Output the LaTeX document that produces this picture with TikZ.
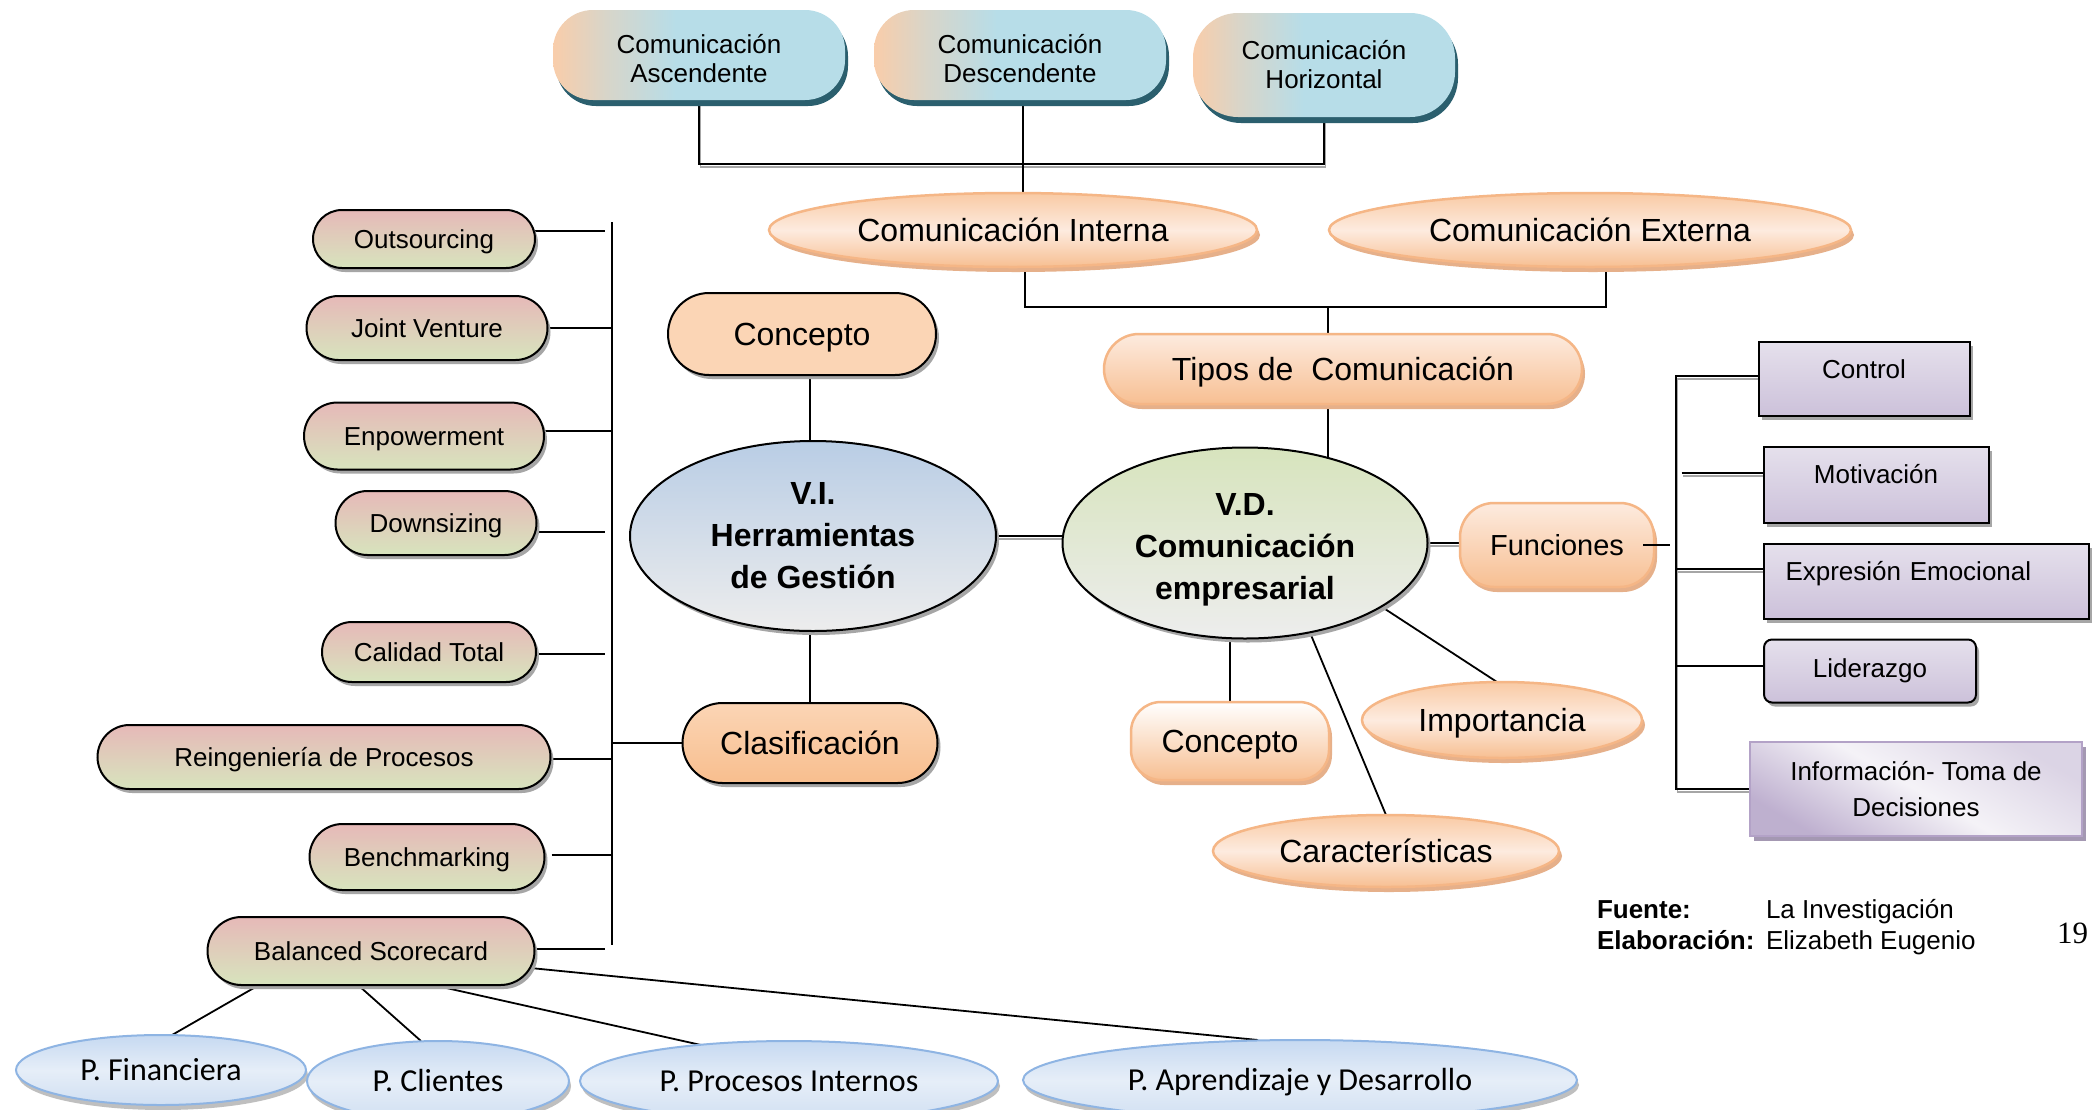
\documentclass[tikz,border=0pt]{standalone}
\usepackage{fontspec}
\setmainfont{Liberation Sans}
\newfontfamily\calib{Carlito}
\newfontfamily\timesf{Liberation Serif}
\usetikzlibrary{shapes.misc,shapes.geometric,shadows,backgrounds}
\definecolor{pinkt}{HTML}{E6B9B8}
\definecolor{greenb}{HTML}{D7E4BD}
\definecolor{vitop}{HTML}{B9CDE5}
\definecolor{greyb}{HTML}{EDEDED}
\definecolor{peachf}{HTML}{FBD5B5}
\definecolor{peachd}{HTML}{F8BE8E}
\definecolor{orb}{HTML}{F5B686}
\definecolor{ellt}{HTML}{F9CAA4}
\definecolor{ellm}{HTML}{FDEBDF}
\definecolor{ellb}{HTML}{F7BF92}
\definecolor{osha}{HTML}{E6B08A}
\definecolor{lavt}{HTML}{E5E0EC}
\definecolor{lavb}{HTML}{CCC1DA}
\definecolor{purb}{HTML}{B3A2C7}
\definecolor{blut}{HTML}{C6D9F1}
\definecolor{blum}{HTML}{E6EEF8}
\definecolor{blub}{HTML}{D0DFF2}
\definecolor{blubd}{HTML}{8EB4E3}
\definecolor{pch}{HTML}{F9CDAA}
\definecolor{blu}{HTML}{B7DDE8}
\definecolor{tealsh}{HTML}{2B5F6E}
\pgfdeclarehorizontalshading{peachblue}{100bp}{color(0bp)=(pch); color(25bp)=(pch); color(34bp)=(pch!50!blu); color(46bp)=(blu); color(100bp)=(blu)}
\tikzset{
  base/.style={inner sep=0pt, outer sep=0pt, text=black},
  f26/.style={font=\fontsize{26}{29}\selectfont, text height=19pt, text depth=0pt},
  f32/.style={font=\fontsize{32}{38}\selectfont, text height=23pt, text depth=0pt},
  gsh/.style={drop shadow={shadow xshift=3pt, shadow yshift=-4pt, fill=black!35, opacity=1}},
  osh/.style={drop shadow={shadow xshift=3pt, shadow yshift=-5pt, fill=osha, opacity=1}},
  topbox/.style={base, font=\fontsize{26}{29}\selectfont, align=center, rectangle, rounded corners=40pt, minimum width=292pt, minimum height=90pt, shade, shading=peachblue, drop shadow={shadow xshift=3pt, shadow yshift=-6pt, fill=tealsh, opacity=1}},
  leftpill/.style={base, f26, rounded rectangle, draw=black, line width=2pt, top color=pinkt, bottom color=greenb, gsh},
  peachell/.style={base, f32, ellipse, draw=orb, line width=2.5pt, top color=ellt, bottom color=ellb, middle color=ellm, osh},
  peachpill/.style={base, f32, rounded rectangle, draw=orb, line width=2.5pt, top color=ellm, bottom color=ellb, osh},
  bigell/.style={base, ellipse, draw=black, line width=2pt, align=center, font=\bfseries\fontsize{32}{42}\selectfont, gsh},
  lavbox/.style={base, f26, rectangle, draw=black, line width=2pt, top color=lavt, bottom color=lavb, gsh},
  botell/.style={base, ellipse, draw=blubd, line width=2pt, top color=blut, bottom color=blub, middle color=blum, font=\calib\fontsize{32}{38}\selectfont, text height=21pt, text depth=0pt, drop shadow={shadow xshift=2pt, shadow yshift=-5pt, fill=black!25, opacity=1}},
  conn/.style={draw=black, line width=1.8pt},
  dbl/.style={conn, preaction={draw=black!35, line width=1.6pt, transform canvas={shift={(1.5pt,-3pt)}}}},
}
\begin{document}
\begin{tikzpicture}[x=1pt,y=-1pt]
\useasboundingbox (0,0) rectangle (2096,1109);
\clip (0,0) rectangle (2096,1109);

% top row
\node[topbox] (asc) at (699,55) {\rule{0pt}{27pt}Comunicación\\Ascendente};
\node[topbox] (desc) at (1020,55) {\rule{0pt}{27pt}Comunicación\\Descendente};
\node[topbox, minimum width=262pt, minimum height=104pt, rounded corners=45pt] (hor) at (1324,65) {Comunicación\\Horizontal};

\node[peachell, minimum width=488pt, minimum height=74pt] (ci) at (1013,230) {Comunicación Interna};
\node[peachell, minimum width=522pt, minimum height=74pt] (ce) at (1590,230) {Comunicación Externa};
\node[peachpill, minimum width=478pt, minimum height=70pt] (tipos) at (1343,369) {Tipos de\ \ Comunicación};

% centre
\node[bigell, minimum width=366pt, minimum height=190pt, top color=vitop, bottom color=greyb] (vi) at (813,536) {V.I.\\Herramientas\\de Gestión};
\node[bigell, minimum width=365pt, minimum height=191pt, top color=greenb, bottom color=greyb] (vd) at (1245,543) {\rule{0pt}{36pt}V.D.\\Comunicación\\empresarial};
\node[base, f32, rounded rectangle, draw=black, line width=2pt, fill=peachf, gsh, minimum width=268pt, minimum height=82pt] (concL) at (802,334) {Concepto};
\node[base, f32, rounded rectangle, draw=black, line width=2pt, top color=peachf, bottom color=peachd, gsh, minimum width=255pt, minimum height=80pt] (clas) at (810,743) {Clasificación};

\node[base, f32, rectangle, rounded corners=30pt, draw=orb, line width=2.5pt, top color=white, bottom color=ellb, osh, minimum width=198pt, minimum height=78pt] (concR) at (1230,741) {Concepto};
\node[peachell, minimum width=280pt, minimum height=76pt] (imp) at (1502,720) {Importancia};
\node[peachell, minimum width=346pt, minimum height=72pt] (car) at (1386,851) {Características};
\node[base, font=\fontsize{29}{34}\selectfont, text height=21pt, text depth=0pt, rectangle, rounded corners=34pt, draw=orb, line width=2.5pt, top color=ellm, bottom color=ellb, osh, minimum width=194pt, minimum height=84pt] (func) at (1557,545) {Funciones};

% right boxes
\node[lavbox, minimum width=211pt, minimum height=74pt, text depth=20pt] (ctrl) at (1864,379) {Control};
\node[lavbox, minimum width=225pt, minimum height=76pt, text depth=22pt] (motiv) at (1876,485) {Motivación};
\node[lavbox, minimum width=325pt, minimum height=75pt, text depth=20pt, text width=281pt, align=left] (expr) at (1926,581) {Expresión Emocional};
\node[lavbox, rounded corners=8pt, minimum width=212pt, minimum height=63pt, text depth=6pt] (lid) at (1870,671) {Liderazgo};
\node[base, align=center, font=\fontsize{26}{36}\selectfont, rectangle, draw=purb, line width=2pt, top color=lavt!80!purb, bottom color=purb!85, middle color=lavt!40!white, shading angle=-30, drop shadow={shadow xshift=4pt, shadow yshift=-5pt, fill=purb!70!gray, opacity=1}, minimum width=332pt, minimum height=94pt] (info) at (1916,789) {Información- Toma de\\Decisiones};

% left column
\node[leftpill, minimum width=222pt, minimum height=58pt] (out) at (424,239) {Outsourcing};
\node[leftpill, minimum width=241pt, minimum height=64pt] (jv) at (427,328) {Joint Venture};
\node[leftpill, minimum width=240pt, minimum height=67pt] (emp) at (424,436) {Enpowerment};
\node[leftpill, minimum width=201pt, minimum height=64pt] (down) at (436,523) {Downsizing};
\node[leftpill, minimum width=214pt, minimum height=60pt] (cal) at (429,652) {Calidad Total};
\node[leftpill, minimum width=453pt, minimum height=64pt] (reing) at (324,757) {Reingeniería de Procesos};
\node[leftpill, minimum width=235pt, minimum height=66pt] (bench) at (427,857) {Benchmarking};
\node[leftpill, minimum width=327pt, minimum height=68pt] (bsc) at (371,951) {Balanced Scorecard};

% bottom ellipses
\node[botell, minimum width=290pt, minimum height=70pt] (pf) at (161,1070) {P. Financiera};
\node[botell, minimum width=262pt, minimum height=80pt] (pcl) at (438,1081) {P. Clientes};
\node[botell, minimum width=418pt, minimum height=80pt] (ppi) at (789,1081) {P. Procesos Internos};
\node[botell, minimum width=554pt, minimum height=80pt] (pad) at (1300,1080) {P. Aprendizaje y Desarrollo};

% footer
\node[base, anchor=base west, font=\bfseries\fontsize{26}{29}\selectfont] (fl) at (1597,918) {Fuente:};
\node[base, anchor=base west, font=\fontsize{26}{29}\selectfont] (fv) at (1766,918) {La Investigación};
\node[base, anchor=base west, font=\bfseries\fontsize{26}{29}\selectfont] (el) at (1597,949) {Elaboración:};
\node[base, anchor=base west, font=\fontsize{26}{29}\selectfont] (ev) at (1766,949) {Elizabeth Eugenio};
\node[base, anchor=base west, font=\timesf\fontsize{31}{36}\selectfont] (pg) at (2057,943) {19};

\draw[conn] ([xshift=-11pt]func.east) -- ([xshift=16pt]func.east);

\begin{pgfonlayer}{background}
\fill[white] (0,0) rectangle (2096,1109);
\coordinate (bar) at (0,164);
\coordinate (bar2) at (0,307);
\coordinate (lst) at (612,222);
\coordinate (lsb) at (612,945);
\coordinate (lx) at (605,0);
\coordinate (rst) at (1676,376);
\coordinate (rsb) at (1676,789);
\draw[dbl] (asc.south) -- (asc.south |- bar) -- (hor.south |- bar) -- (hor.south);
\draw[conn] ([xshift=3pt]desc.south) -- ([xshift=3pt]desc.south |- ci.center);
\draw[conn] ([xshift=12pt]ci.center) -- ([xshift=12pt]ci.center |- bar2) -- ([xshift=16pt]ce.center |- bar2) -- ([xshift=16pt]ce.center);
\draw[conn] ([xshift=-15pt]tipos.center |- bar2) -- ([xshift=-15pt]tipos.center |- vd.center);
\draw[conn] ([xshift=8pt]concL.center) -- ([xshift=8pt]concL.center |- vi.center);
\draw[conn] (clas.center |- vi.center) -- (clas.center);
\draw[dbl] (vi.center) -- (vi.center -| vd.center);
\draw[conn] (concR.center) -- (concR.center |- vd.center);
\draw[conn] (car.north) -- (vd.-54);
\draw[conn] ([xshift=-5pt]imp.north) -- (vd.-25);
\draw[dbl] (vd.center) -- (vd.center -| func.center);
% right spine
\draw[dbl] (ctrl.west |- rst) -- (rst) -- (rsb) -- (info.west |- rsb);
\draw[dbl] ([xshift=-82pt,yshift=12pt]motiv.west) -- ([yshift=12pt]motiv.west);
\draw[dbl] ([yshift=12pt]expr.west -| rst) -- ([yshift=12pt]expr.west);
\draw[conn] ([yshift=5pt]lid.west -| rst) -- ([yshift=5pt]lid.west);
% left spine
\draw[conn] (lst) -- (lsb);
\draw[conn] ([yshift=8pt]out.east) -- ([yshift=8pt]out.east -| lx);
\draw[conn] (jv.east) -- (jv.east -| lst);
\draw[conn] ([yshift=5pt]emp.east) -- ([yshift=5pt]emp.east -| lst);
\draw[conn] ([yshift=-9pt]down.east) -- ([yshift=-9pt]down.east -| lx);
\draw[conn] ([yshift=-2pt]cal.east) -- ([yshift=-2pt]cal.east -| lx);
\draw[conn] ([yshift=-2pt]reing.east) -- ([yshift=-2pt]reing.east -| lst);
\draw[conn] ([xshift=7pt,yshift=2pt]bench.east) -- ([yshift=2pt]bench.east -| lst);
\draw[conn] ([yshift=2pt]bsc.east) -- ([yshift=2pt]bsc.east -| lx);
\draw[conn] (clas.west) -- (clas.west -| lst);
% balanced scorecard
\draw[conn] ([xshift=-112pt]bsc.south) -- ([xshift=11pt]pf.north);
\draw[conn] ([xshift=-13pt]bsc.south) -- ([xshift=-17pt]pcl.north);
\draw[conn] ([xshift=62pt]bsc.south) -- ([xshift=-88pt,yshift=-4pt]ppi.north);
\draw[conn] ([xshift=-4pt,yshift=-17pt]bsc.east) -- ([xshift=-42pt]pad.north);
\end{pgfonlayer}
\end{tikzpicture}
\end{document}
